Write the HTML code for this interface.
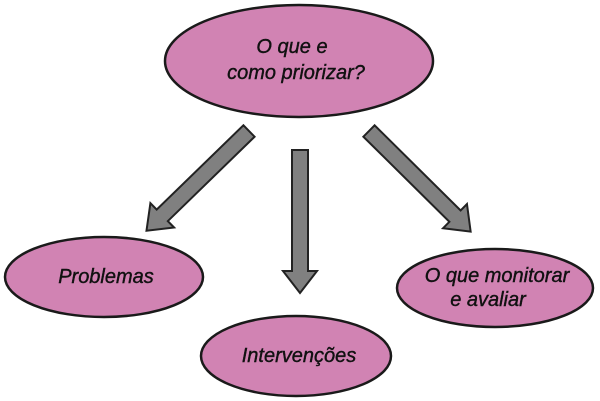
<!DOCTYPE html>
<html><head><meta charset="utf-8"><style>
html,body{margin:0;padding:0;background:#fff;width:600px;height:401px;overflow:hidden}
text{font-family:"Liberation Sans",sans-serif;font-style:italic;font-size:20px;fill:#111;stroke:#111;stroke-width:0.4}
</style></head><body>
<svg width="600" height="401" viewBox="0 0 600 401">
<defs>
<polygon id="ar" points="0,-8 121,-8 121,-17 143,0 121,17 121,8 0,8" fill="#808080" stroke="#222" stroke-width="2" stroke-linejoin="miter"/>
</defs>
<ellipse cx="299" cy="61" rx="134" ry="56" fill="#d183b3" stroke="#1a1a1a" stroke-width="2.5"/>
<text x="292" y="53" text-anchor="middle">O que e</text>
<text x="296" y="79" text-anchor="middle">como priorizar?</text>
<use href="#ar" transform="translate(249,131) rotate(135.8)"/>
<use href="#ar" transform="translate(300,150) rotate(90)"/>
<use href="#ar" transform="translate(369,131) rotate(44.7)"/>
<ellipse cx="104" cy="277" rx="99" ry="40" fill="#d183b3" stroke="#1a1a1a" stroke-width="2.5"/>
<text x="106" y="283" text-anchor="middle">Problemas</text>
<ellipse cx="296" cy="356" rx="95" ry="40" fill="#d183b3" stroke="#1a1a1a" stroke-width="2.5"/>
<text x="299" y="362" text-anchor="middle">Intervenções</text>
<ellipse cx="495" cy="288" rx="98" ry="39" fill="#d183b3" stroke="#1a1a1a" stroke-width="2.5"/>
<text x="497" y="282" text-anchor="middle">O que monitorar</text>
<text x="488" y="306" text-anchor="middle">e avaliar</text>
</svg>
</body></html>
